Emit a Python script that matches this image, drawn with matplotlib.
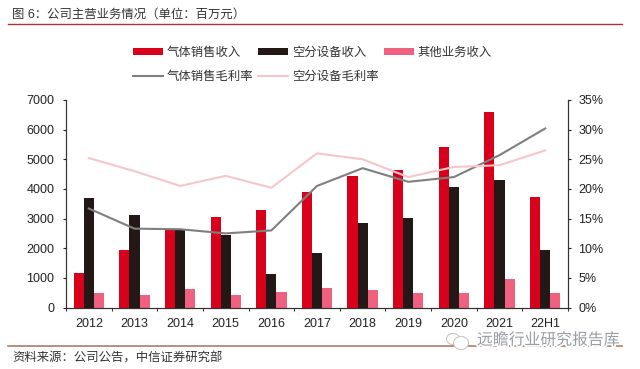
import matplotlib
matplotlib.use('Agg')
import matplotlib.pyplot as plt
import matplotlib.patheffects as pe
from matplotlib.patches import Ellipse
import numpy as np

plt.rcParams['font.family'] = ['Liberation Sans', 'Noto Sans CJK SC', 'DejaVu Sans']

years = ['2012', '2013', '2014', '2015', '2016', '2017', '2018', '2019', '2020', '2021', '22H1']
gas_rev = [1150, 1930, 2650, 3050, 3280, 3900, 4450, 4650, 5420, 6600, 3720]
equip_rev = [3680, 3120, 2620, 2430, 1120, 1850, 2840, 3020, 4080, 4300, 1950]
other_rev = [480, 420, 620, 430, 510, 660, 590, 490, 500, 950, 490]
gas_margin = [16.7, 13.3, 13.2, 12.5, 13.0, 20.5, 23.5, 21.2, 22.0, 25.7, 30.2]
equip_margin = [25.2, 23.0, 20.5, 22.2, 20.2, 26.0, 25.0, 22.0, 23.7, 24.0, 26.5]
left_ticks = [0, 1000, 2000, 3000, 4000, 5000, 6000, 7000]
right_ticks = [0, 5, 10, 15, 20, 25, 30, 35]

RED = '#d9001b'
BLACK = '#231815'
PINK = '#f0607f'
GREY = '#7f7f7f'
LIGHT = '#f6c6cb'
TXT = '#222222'

W, H = 640, 369
fig = plt.figure(figsize=(6.4, 3.69), dpi=100)
ax = fig.add_axes([66/W, 1-307.5/H, (568-66)/W, 207.5/H])
ax2 = ax.twinx()

x = np.arange(len(years))
w = 0.222
b1 = ax.bar(x-w, gas_rev, w, color=RED, label='气体销售收入')
b2 = ax.bar(x, equip_rev, w, color=BLACK, label='空分设备收入')
b3 = ax.bar(x+w, other_rev, w, color=PINK, label='其他业务收入')
l1, = ax2.plot(x, gas_margin, color=GREY, lw=1.5, label='气体销售毛利率')
l2, = ax2.plot(x, equip_margin, color=LIGHT, lw=1.5, label='空分设备毛利率')

ax.set_xlim(-0.5, len(years)-0.5)
ax.set_ylim(0, 7000)
ax2.set_ylim(0, 35)
ax.set_xticks(np.arange(len(years)+1)-0.5)
ax.set_xticklabels([])
ax.set_xticks(x, minor=True)
ax.set_xticklabels(years, minor=True)
ax.tick_params(axis='x', which='minor', length=0, labelsize=9, pad=7.5, colors=TXT)
ax.tick_params(axis='x', which='major', length=2.5, width=0.8, color='#333333')
ax.set_yticks(left_ticks)
ax.tick_params(axis='y', length=2.5, width=0.8, labelsize=9, pad=6, colors=TXT)
ax2.set_yticks(right_ticks)
ax2.set_yticklabels([f'{v}%' for v in right_ticks])
ax2.tick_params(axis='y', length=2.5, width=0.8, labelsize=9, pad=5, colors=TXT)
for a in (ax, ax2):
    a.spines['top'].set_visible(False)
    for s in ('left', 'right', 'bottom'):
        a.spines[s].set_color('#333333')
        a.spines[s].set_linewidth(0.8)

# legend fills by column, so order gives the two reference rows
handles = [b1, l1, b2, l2, b3]
leg = fig.legend(handles, [h.get_label() for h in handles],
                 ncol=3, loc='upper left', bbox_to_anchor=(133/W, 1-47/H),
                 frameon=False, fontsize=8.9, handlelength=2.42, handleheight=0.45,
                 columnspacing=0.4, handletextpad=0.32, labelspacing=0.98,
                 borderpad=0, borderaxespad=0, labelcolor='#333333')

# title, source and rules around the chart
fig.text(12/W, 1-15/H, '图 6：公司主营业务情况（单位：百万元）', fontsize=8.9, color='#333333', va='center')
fig.text(12/W, 1-359/H, '资料来源：公司公告，中信证券研究部', fontsize=8.9, color='#333333', va='center')
fig.add_artist(plt.Line2D([8/W, 622/W], [1-23.7/H]*2, color='#a8323e', lw=1))
fig.add_artist(plt.Line2D([8/W, 622/W], [1-346/H]*2, color='#b5786c', lw=1.2))

# watermark
for cx, cy, rw, rh in [(453, 339, 13, 11), (461, 343, 15, 13)]:
    fig.add_artist(Ellipse((cx/W, 1-cy/H), rw/W, rh/H, transform=fig.transFigure,
                           fc='white', ec='#c8c8c8', lw=0.8, zorder=5))
fig.text(477/W, 1-340/H, '远瞻行业研究报告库', fontsize=11.4, color='#9a9ea4', va='center',
         zorder=5, path_effects=[pe.withStroke(linewidth=2.5, foreground='white')])

fig.savefig('out.png', dpi=100)
